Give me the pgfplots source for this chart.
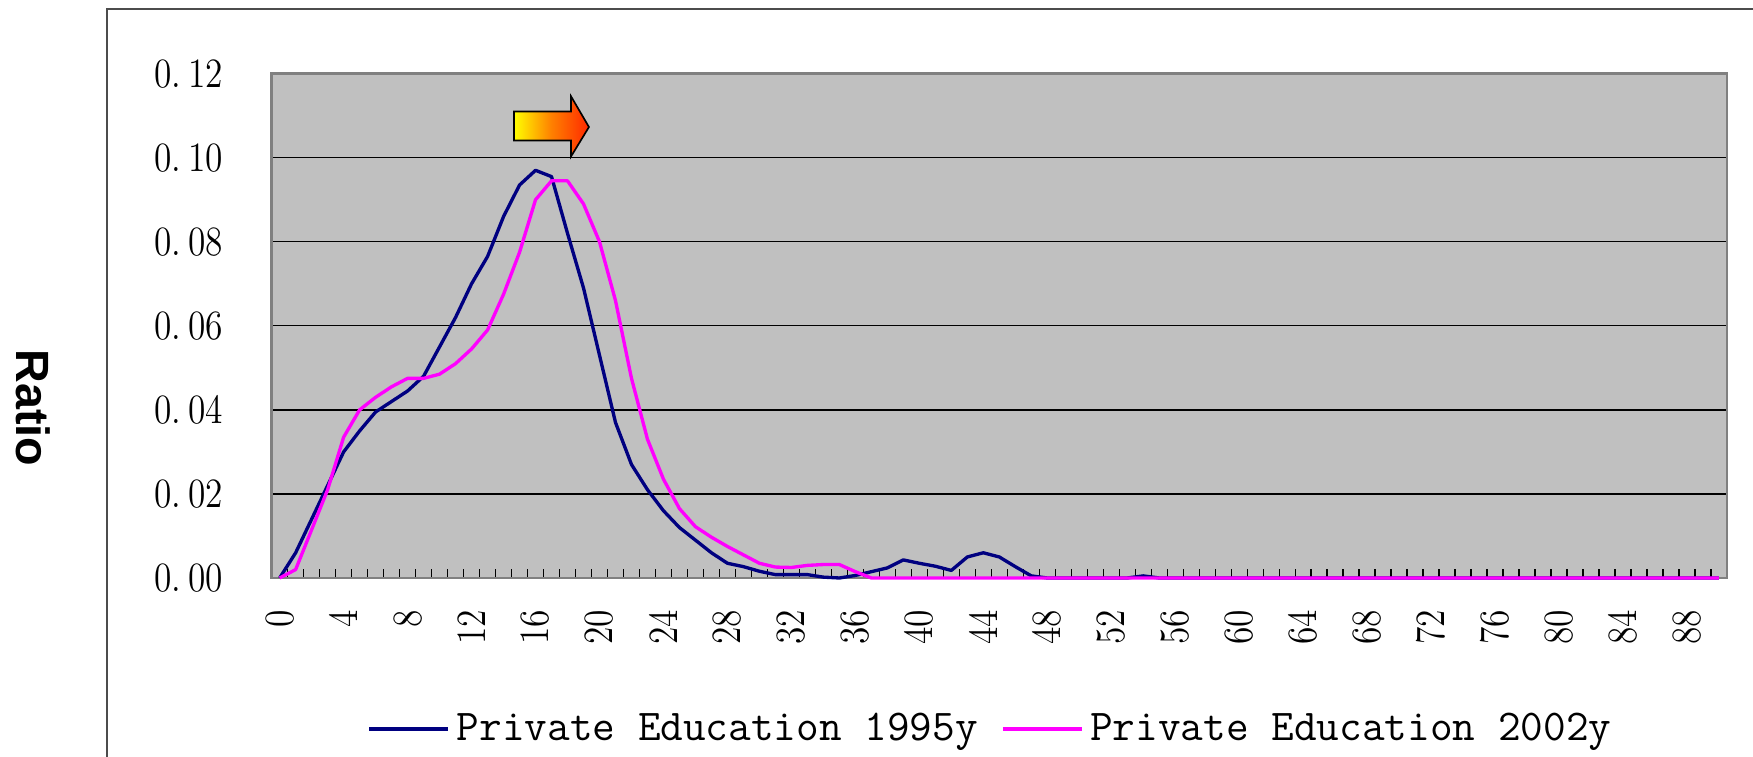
\documentclass[border=0pt]{standalone}
\usepackage{fontspec}
\usepackage{graphicx}
\usepackage{pgfplots}
\pgfplotsset{compat=1.18}
\usepackage{pgfplotstable}
\newfontfamily\arialfont{Liberation Sans}
\definecolor{plotgray}{HTML}{C0C0C0}
\definecolor{navyline}{HTML}{000080}
\definecolor{magline}{HTML}{FF00FF}
\definecolor{framegray}{HTML}{808080}
\definecolor{arrowred}{HTML}{FF2800}
\newcommand{\narrow}[1]{\scalebox{0.85}[1]{#1}}
\newcommand{\yl}[1]{\narrow{0.\hspace{0.2em}#1}}

% ratio per category, 1995 and 2002
\pgfplotstableread{
k y95 y02
0 0.0000 0.0000
1 0.0060 0.0020
2 0.0140 0.0115
3 0.0220 0.0210
4 0.0300 0.0335
5 0.0350 0.0400
6 0.0395 0.0430
7 0.0420 0.0455
8 0.0445 0.0475
9 0.0480 0.0475
10 0.0550 0.0485
11 0.0620 0.0510
12 0.0700 0.0545
13 0.0765 0.0590
14 0.0860 0.0675
15 0.0935 0.0775
16 0.0970 0.0900
17 0.0955 0.0945
18 0.0820 0.0945
19 0.0690 0.0890
20 0.0530 0.0800
21 0.0370 0.0660
22 0.0270 0.0475
23 0.0210 0.0330
24 0.0160 0.0235
25 0.0120 0.0165
26 0.0090 0.0122
27 0.0060 0.0097
28 0.0035 0.0075
29 0.0027 0.0055
30 0.0016 0.0035
31 0.0008 0.0026
32 0.0008 0.0025
33 0.0008 0.0030
34 0.0002 0.0032
35 0.0000 0.0032
36 0.0006 0.0015
37 0.0015 0.0000
38 0.0024 0.0000
39 0.0043 0.0000
40 0.0035 0.0000
41 0.0028 0.0000
42 0.0018 0.0000
43 0.0050 0.0000
44 0.0060 0.0000
45 0.0050 0.0000
46 0.0027 0.0000
47 0.0005 0.0000
48 0.0000 0.0000
49 0.0000 0.0000
50 0.0000 0.0000
51 0.0000 0.0000
52 0.0000 0.0000
53 0.0000 0.0000
54 0.0005 0.0000
55 0.0000 0.0000
56 0.0000 0.0000
57 0.0000 0.0000
58 0.0000 0.0000
59 0.0000 0.0000
60 0.0000 0.0000
61 0.0000 0.0000
62 0.0000 0.0000
63 0.0000 0.0000
64 0.0000 0.0000
65 0.0000 0.0000
66 0.0000 0.0000
67 0.0000 0.0000
68 0.0000 0.0000
69 0.0000 0.0000
70 0.0000 0.0000
71 0.0000 0.0000
72 0.0000 0.0000
73 0.0000 0.0000
74 0.0000 0.0000
75 0.0000 0.0000
76 0.0000 0.0000
77 0.0000 0.0000
78 0.0000 0.0000
79 0.0000 0.0000
80 0.0000 0.0000
81 0.0000 0.0000
82 0.0000 0.0000
83 0.0000 0.0000
84 0.0000 0.0000
85 0.0000 0.0000
86 0.0000 0.0000
87 0.0000 0.0000
88 0.0000 0.0000
89 0.0000 0.0000
90 0.0000 0.0000
}\ratios

\begin{document}
\begin{tikzpicture}
\useasboundingbox (0,0) rectangle (525.9pt,227.1pt);
\draw[black!70, line width=0.6pt] (32.1pt,0pt) -- (32.1pt,224.4pt) -- (525.9pt,224.4pt);
\begin{axis}[
    at={(81.5pt,53.7pt)}, anchor=south west,
    scale only axis, width=436.6pt, height=151.3pt,
    xmin=-0.5, xmax=90.5, ymin=0, ymax=0.12,
    clip=false,
    axis background/.style={fill=plotgray},
    axis line style={framegray, line width=0.8pt},
    ytick={0,0.02,0.04,0.06,0.08,0.10,0.12},
    yticklabels={\yl{00},\yl{02},\yl{04},\yl{06},\yl{08},\yl{10},\yl{12}},
    scaled y ticks=false,
    ymajorgrids, grid style={black, line width=0.4pt},
    xtick={0,4,8,12,16,20,24,28,32,36,40,44,48,52,56,60,64,68,72,76,80,84,88},
    xticklabels={\narrow{0},\narrow{4},\narrow{8},\narrow{12},\narrow{16},\narrow{20},
        \narrow{24},\narrow{28},\narrow{32},\narrow{36},\narrow{40},\narrow{44},
        \narrow{48},\narrow{52},\narrow{56},\narrow{60},\narrow{64},\narrow{68},
        \narrow{72},\narrow{76},\narrow{80},\narrow{84},\narrow{88}},
    minor xtick={0.5,1.5,...,89.5},
    tick align=inside,
    xtick pos=left, ytick pos=left,
    major tick length=3pt, minor tick length=2.8pt,
    major x tick style={draw=none},
    minor x tick style={black, line width=0.4pt},
    y tick style={black, line width=0.4pt},
    ticklabel style={font=\rmfamily\fontsize{12.5}{13}\selectfont},
    yticklabel style={xshift=-11pt},
    xticklabel style={rotate=90, anchor=east},
    xticklabel shift=6pt,
    ylabel={\arialfont\bfseries\fontsize{14}{16}\selectfont Ratio},
    ylabel style={at={(axis description cs:-0.1637,0.337)}, rotate=180, anchor=center},
    legend columns=2,
    legend style={at={(axis description cs:0.4956,-0.2994)}, anchor=center,
        draw=none, fill=none, font=\ttfamily\fontsize{13.2}{15}\selectfont,
        /tikz/every even column/.append style={column sep=5pt}},
    legend image code/.code={\draw[#1] (0pt,0pt) -- (23.7pt,0pt);},
]
\addplot[navyline, line width=1pt, line join=round, mark=none] table[x=k, y=y95] {\ratios};
\addlegendentry{Private Education 1995y}
\addplot[magline, line width=1pt, line join=round, mark=none] table[x=k, y=y02] {\ratios};
\addlegendentry{Private Education 2002y}
\shade[draw=black, line width=0.5pt, left color=yellow, right color=arrowred, middle color=orange]
    (axis cs:14.65,0.1041) -- (axis cs:18.22,0.1041) -- (axis cs:18.22,0.1003)
    -- (axis cs:19.34,0.1073) -- (axis cs:18.22,0.1146) -- (axis cs:18.22,0.1110)
    -- (axis cs:14.65,0.1110) -- cycle;
\end{axis}
\end{tikzpicture}
\end{document}
